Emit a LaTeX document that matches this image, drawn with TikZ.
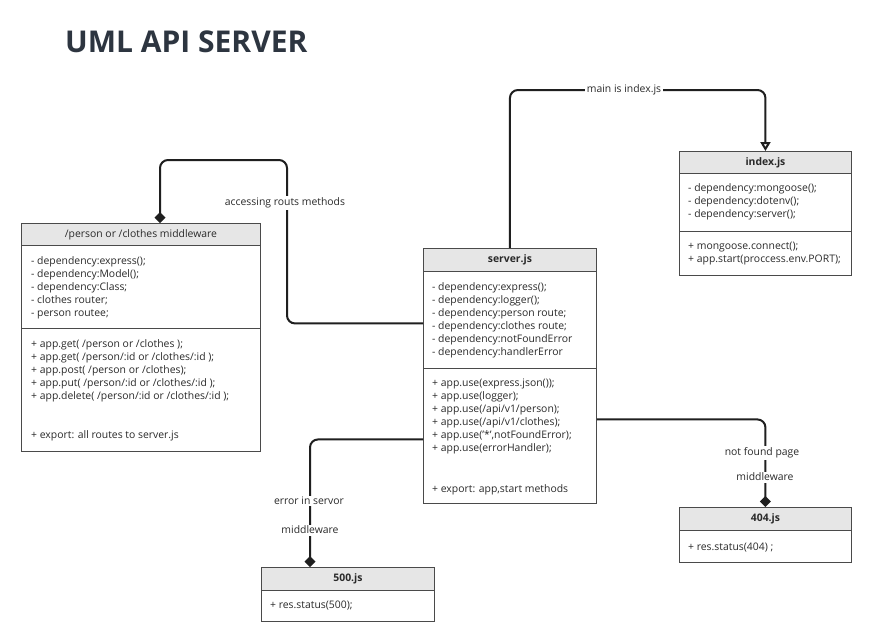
\documentclass[tikz,border=0pt]{standalone}
\usepackage{fontspec}
\setmainfont{Open Sans}
\usetikzlibrary{arrows.meta,calc}
\definecolor{linec}{HTML}{1F1F1F}
\definecolor{boxc}{HTML}{4A4A4A}
\definecolor{hdrfill}{HTML}{E6E6E6}
\definecolor{txtc}{HTML}{2A2A2A}
\definecolor{titlec}{HTML}{2D3540}
\newcommand\firstln{\rule{0pt}{9pt}}
\newcommand\bodyfnt{\fontsize{10.4}{13}\selectfont}
\tikzset{
  conn/.style={draw=linec, line width=2pt, rounded corners=8pt},
  hdr/.style={draw=boxc, fill=hdrfill, line width=0.9pt, anchor=north west, inner sep=0pt, font=\bodyfnt, text=txtc},
  sec/.style={draw=boxc, line width=0.9pt, anchor=north west, inner sep=0pt},
  txt/.style={anchor=north west, inner sep=0pt, align=left, font=\bodyfnt, text=txtc},
  lbl/.style={fill=white, inner sep=1.5pt, font=\bodyfnt, text=txtc},
  dia/.style={-{Diamond[length=11pt,width=11pt]}},
  tri/.style={-{Triangle[open,length=9pt,width=10pt]}},
}
\begin{document}
\begin{tikzpicture}[x=1pt,y=-1pt]
\useasboundingbox[fill=white] (0,0) rectangle (875,637);

% title
\node[anchor=base west, inner sep=0pt, font=\fontsize{30}{36}\selectfont\bfseries, text=titlec] (title) at (65,52) {UML API SERVER};

% middleware box
\node[hdr, minimum width=239pt, minimum height=22pt] (mwH) at (21,223) {/person or /clothes middleware};
\node[sec, minimum width=239pt, minimum height=83pt] (mwA) at (21,245) {};
\node[sec, minimum width=239pt, minimum height=123pt] (mwM) at (21,328) {};
\node[txt] (mwAt) at (31,255) {\firstln- dependency:express();\\- dependency:Model();\\- dependency:Class;\\- clothes router;\\- person routee;};
\node[txt] (mwMt) at (31,338) {\firstln+ app.get( /person or /clothes );\\+ app.get( /person/:id or /clothes/:id );\\+ app.post( /person or /clothes);\\+ app.put( /person/:id or /clothes/:id );\\+ app.delete( /person/:id or /clothes/:id );\\[26pt]+ export: all routes to server.js};

% server box
\node[hdr, minimum width=173pt, minimum height=23pt, font=\bodyfnt\bfseries] (srvH) at (423,248) {server.js};
\node[sec, minimum width=173pt, minimum height=97pt] (srvA) at (423,271) {};
\node[sec, minimum width=173pt, minimum height=135pt] (srvM) at (423,368) {};
\node[txt] (srvAt) at (432,281) {\firstln- dependency:express();\\- dependency:logger();\\- dependency:person route;\\- dependency:clothes route;\\- dependency:notFoundError\\- dependency:handlerError};
\node[txt] (srvMt) at (432,377) {\firstln+ app.use(express.json());\\+ app.use(logger);\\+ app.use(/api/v1/person);\\+ app.use(/api/v1/clothes);\\+ app.use('*',notFoundError);\\+ app.use(errorHandler);\\[28pt]+ export: app,start methods};

% index box
\node[hdr, minimum width=172pt, minimum height=22pt, font=\bodyfnt\bfseries] (idxH) at (679,151) {index.js};
\node[sec, minimum width=172pt, minimum height=58pt] (idxA) at (679,173) {};
\node[sec, minimum width=172pt, minimum height=44pt] (idxM) at (679,231) {};
\node[txt] (idxAt) at (688,182) {\firstln- dependency:mongoose();\\- dependency:dotenv();\\- dependency:server();};
\node[txt] (idxMt) at (688,240) {\firstln+ mongoose.connect();\\+ app.start(proccess.env.PORT);};

% 404 box
\node[hdr, minimum width=172pt, minimum height=23pt, font=\bodyfnt\bfseries] (nfH) at (679,507) {404.js};
\node[sec, minimum width=172pt, minimum height=32pt] (nfM) at (679,530) {};
\node[txt] (nfMt) at (688,541) {\firstln+ res.status(404) ;};

% 500 box
\node[hdr, minimum width=173pt, minimum height=23pt, font=\bodyfnt\bfseries] (seH) at (261,567) {500.js};
\node[sec, minimum width=173pt, minimum height=31pt] (seM) at (261,590) {};
\node[txt] (seMt) at (270,599) {\firstln+ res.status(500);};

% connectors
\coordinate (mainy) at (0,90);
\draw[conn, tri] (srvH.north) -- (srvH.north |- mainy) -- (idxH.north |- mainy) -- (idxH.north);
\node[lbl] (lmain) at (624,90) {main is index.js};

\coordinate (acc) at (287,160);
\coordinate (mwTop) at ($(mwH.north west)+(139,0)$);
\draw[conn, dia] ([yshift=-3.5pt]srvA.west) -| (acc) -| (mwTop);
\node[lbl] (lacc) at (285,203) {accessing routs methods};

\coordinate (seTop) at ($(seH.north west)+(49,0)$);
\draw[conn, dia] ([yshift=-3.5pt]srvM.west) -| (seTop);
\node[lbl] (lerr) at (309,501) {error in servor};
\node[lbl] (lmw1) at (310,530) {middleware};

\draw[conn, dia] ([yshift=16.5pt]srvM.east) -| (nfH.north);
\node[lbl] (lnf) at (762,453) {not found page};
\node[lbl] (lmw2) at (765,477) {middleware};
\end{tikzpicture}
\end{document}
